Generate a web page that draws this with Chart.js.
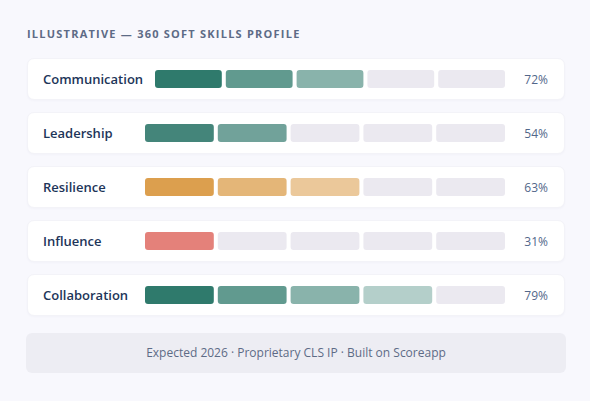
<!DOCTYPE html>
<html lang="en">
<head>
    <meta charset="UTF-8">
    <title>360 Soft Skills Profile</title>
    <style>
        body {
            margin: 0;
            padding: 0;
            width: 590px;
            height: 401px;
            background-color: #f8f8fd;
            font-family: "Open Sans", "Noto Sans", sans-serif;
            overflow: hidden;
        }
        .wrap {
            position: absolute;
            left: 27px;
            top: 0;
            width: 538px;
        }
        h1 {
            margin: 0;
            position: absolute;
            top: 26px;
            left: 0;
            font-size: 11px;
            font-weight: 700;
            letter-spacing: 1.23px;
            color: #5d6b86;
            white-space: nowrap;
        }
        .rows {
            position: absolute;
            top: 58px;
            left: 0;
            width: 538px;
        }
        .row {
            display: flex;
            align-items: center;
            box-sizing: border-box;
            height: 42px;
            margin-bottom: 12px;
            padding: 0 16px 0 15px;
            background-color: #fff;
            border: 1px solid #f3f3f8;
            border-radius: 7px;
            box-shadow: 0 1px 2px rgba(60, 60, 120, 0.03);
        }
        .label {
            min-width: 90px;
            margin-right: 12px;
            font-size: 13px;
            font-weight: 600;
            color: #1d3559;
            white-space: nowrap;
        }
        .bars {
            flex: 1;
            position: relative;
            height: 18px;
        }
        .bars canvas {
            position: absolute;
            left: -2px;
            top: 0;
        }
        .pct {
            width: 32px;
            margin-left: 11px;
            text-align: right;
            font-size: 12px;
            color: #52678a;
        }
        .footer {
            position: absolute;
            top: 333px;
            left: -1px;
            width: 540px;
            height: 40px;
            line-height: 40px;
            border-radius: 6px;
            background-color: #ededf3;
            text-align: center;
            font-size: 12px;
            color: #5d6b86;
        }
    </style>
    <script src="https://cdn.jsdelivr.net/npm/chart.js"></script>
</head>
<body>
    <div class="wrap">
        <h1>ILLUSTRATIVE — 360 SOFT SKILLS PROFILE</h1>
        <div class="rows" id="rows"></div>
        <div class="footer">Expected 2026 · Proprietary CLS IP · Built on Scoreapp</div>
    </div>
    <script>
        const skills = ['Communication', 'Leadership', 'Resilience', 'Influence', 'Collaboration'];
        const scores = [72, 54, 63, 31, 79];
        const filledSegments = [3, 2, 3, 1, 4];
        const segmentLabels = ['1', '2', '3', '4', '5'];
        const segmentValues = [1, 1, 1, 1, 1];

        // colours per row, and fade for each next filled segment
        const rowColors = ['#2f7a6c', '#44857a', '#dc9f4e', '#e4817a', '#2f7a6c'];
        const fade = [1, 0.76, 0.57, 0.36];
        const emptyColor = '#ebe9f0';

        function withAlpha(hex, a) {
            const r = parseInt(hex.slice(1, 3), 16);
            const g = parseInt(hex.slice(3, 5), 16);
            const b = parseInt(hex.slice(5, 7), 16);
            return `rgba(${r}, ${g}, ${b}, ${a})`;
        }

        const rowsEl = document.getElementById('rows');

        skills.forEach((skill, i) => {
            const row = document.createElement('div');
            row.className = 'row';
            row.innerHTML =
                '<div class="label">' + skill + '</div>' +
                '<div class="bars"><canvas></canvas></div>' +
                '<div class="pct">' + scores[i] + '%</div>';
            rowsEl.appendChild(row);

            const box = row.querySelector('.bars');
            const canvas = box.querySelector('canvas');
            const w = box.clientWidth + 4;
            canvas.width = w;
            canvas.height = 18;
            canvas.style.width = w + 'px';
            canvas.style.height = '18px';

            const colors = segmentLabels.map((s, j) =>
                j < filledSegments[i] ? withAlpha(rowColors[i], fade[j]) : emptyColor);
            const catWidth = w / segmentLabels.length;

            new Chart(canvas.getContext('2d'), {
                type: 'bar',
                data: {
                    labels: segmentLabels,
                    datasets: [{
                        data: segmentValues,
                        backgroundColor: colors,
                        borderRadius: 3,
                        borderSkipped: false,
                        categoryPercentage: 1,
                        barPercentage: (catWidth - 4) / catWidth
                    }]
                },
                options: {
                    responsive: false,
                    animation: false,
                    layout: { padding: 0 },
                    plugins: {
                        legend: { display: false },
                        tooltip: { enabled: false }
                    },
                    scales: {
                        x: { display: false },
                        y: { display: false, min: 0, max: 1 }
                    }
                }
            });
        });
    </script>
</body>
</html>
